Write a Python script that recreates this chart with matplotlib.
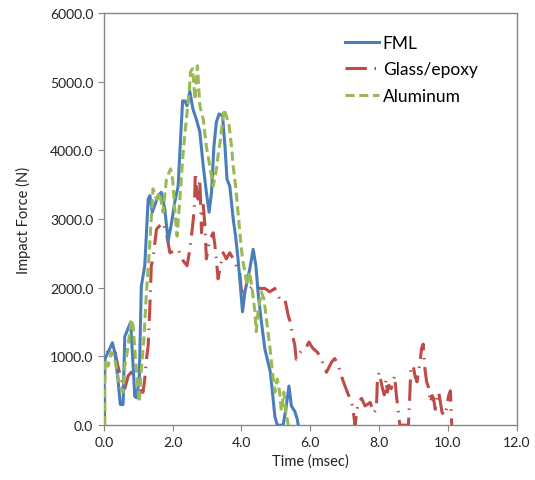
import matplotlib
matplotlib.use('Agg')
import matplotlib.pyplot as plt

plt.rcParams['font.family'] = ['Lato', 'DejaVu Sans']

# FML (solid blue)
fml_t = [0.0, 0.03, 0.125, 0.25, 0.32, 0.41, 0.48, 0.56, 0.61, 0.66, 0.74, 0.78, 0.83, 0.90,
         0.95, 1.03, 1.09, 1.19, 1.29, 1.34, 1.41, 1.48, 1.58, 1.67, 1.77, 1.87, 1.97, 2.06,
         2.16, 2.23, 2.29, 2.35, 2.42, 2.50, 2.59, 2.69, 2.79, 2.89, 2.98, 3.06, 3.13, 3.20,
         3.27, 3.35, 3.45, 3.52, 3.58, 3.66, 3.76, 3.83, 3.90, 3.97, 4.03, 4.10, 4.24, 4.34,
         4.42, 4.48, 4.58, 4.68, 4.77, 4.84, 4.90, 4.97, 5.04, 5.21, 5.29, 5.38, 5.45, 5.55,
         5.62, 5.65]
fml_f = [300, 960, 1060, 1200, 1060, 670, 300, 300, 1290, 1350, 1450, 1500, 1060, 420,
         400, 670, 2020, 2320, 3290, 3340, 3100, 3200, 3340, 3390, 3150, 2680, 2950, 3240,
         3480, 4160, 4720, 4720, 4650, 4860, 4600, 4450, 4270, 3770, 3390, 3100, 3390, 4060,
         4410, 4530, 4500, 4060, 3580, 3480, 3000, 2750, 2420, 2020, 1650, 1940, 2270, 2560,
         2320, 1940, 1500, 1110, 920, 770, 480, 130, 0, 0, 230, 570, 280, 200,
         90, 0]

# Glass/epoxy (red dash-dot)
ge_t = [0.02, 0.03, 0.125, 0.27, 0.33, 0.41, 0.51, 0.61, 0.71, 0.80, 0.90, 1.00, 1.09, 1.14,
        1.19, 1.24, 1.29, 1.34, 1.38, 1.43, 1.53, 1.62, 1.72, 1.82, 1.92, 2.16, 2.31, 2.42,
        2.50, 2.58, 2.63, 2.66, 2.69, 2.74, 2.79, 2.84, 2.89, 2.94, 2.98, 3.08, 3.18, 3.23,
        3.27, 3.32, 3.39, 3.47, 3.56, 3.66, 3.76, 3.85, 3.95, 4.00, 4.10, 4.24, 4.39, 4.53,
        4.68, 4.82, 4.97, 5.11, 5.26, 5.36, 5.42, 5.49, 5.55, 5.59, 5.71, 5.86, 5.96, 6.07,
        6.21, 6.32, 6.47, 6.62, 6.71, 6.81, 6.90, 7.00, 7.10, 7.20, 7.24, 7.30, 7.39, 7.49,
        7.59, 7.74, 7.84, 7.92, 7.95, 8.00, 8.06, 8.10, 8.15, 8.20, 8.24, 8.28, 8.35, 8.45,
        8.50, 8.55, 8.60, 8.75, 8.85, 8.89, 8.92, 8.99, 9.04, 9.10, 9.14, 9.19, 9.23, 9.28,
        9.33, 9.38, 9.43, 9.49, 9.54, 9.58, 9.63, 9.68, 9.73, 9.78, 9.83, 9.92, 10.02, 10.07,
        10.09, 10.11]
ge_f = [100, 1060, 1060, 1080, 1060, 860, 670, 530, 720, 770, 720, 670, 480, 480,
        670, 960, 1160, 1740, 2320, 2420, 2850, 2900, 2950, 2800, 2510, 2560, 2390, 2320,
        2560, 2900, 3150, 3680, 3480, 3290, 3580, 2800, 3200, 2900, 2420, 2700, 2800, 2610,
        2420, 2130, 2320, 2510, 2420, 2510, 2420, 2320, 2230, 1940, 1940, 1990, 2040, 1990,
        1990, 1940, 1990, 1840, 1840, 1590, 1500, 1300, 1160, 960, 1060, 1110, 1210, 1120,
        1060, 960, 770, 920, 970, 880, 720, 580, 450, 330, 230, 0, 330, 390,
        280, 330, 180, 230, 670, 770, 630, 530, 440, 670, 480, 580, 530, 720,
        440, 230, 0, 0, 0, 420, 820, 870, 720, 630, 770, 920, 1110, 1180,
        820, 630, 560, 330, 430, 390, 230, 390, 480, 330, 180, 140, 430, 500,
        230, 0]

# Aluminum (green dashed)
al_t = [0.03, 0.03, 0.125, 0.22, 0.32, 0.39, 0.46, 0.56, 0.61, 0.71, 0.80, 0.85, 0.90, 0.97,
        1.03, 1.09, 1.16, 1.24, 1.32, 1.38, 1.43, 1.53, 1.62, 1.72, 1.82, 1.94, 2.00, 2.06,
        2.13, 2.21, 2.29, 2.35, 2.42, 2.48, 2.52, 2.58, 2.65, 2.72, 2.79, 2.89, 2.98, 3.08,
        3.18, 3.27, 3.33, 3.39, 3.49, 3.56, 3.64, 3.71, 3.76, 3.83, 3.90, 3.97, 4.03, 4.10,
        4.16, 4.24, 4.32, 4.39, 4.43, 4.48, 4.58, 4.65, 4.70, 4.77, 4.84, 4.90, 4.97, 5.04,
        5.11, 5.16, 5.23, 5.29, 5.36]
al_f = [0, 960, 860, 1060, 960, 770, 570, 480, 860, 1160, 1540, 1450, 1110, 670,
        330, 820, 1210, 1940, 2510, 3000, 3440, 3290, 3390, 3100, 3580, 3730, 3580, 3150,
        2750, 3290, 3870, 4210, 4550, 4840, 5140, 5190, 4740, 5230, 4650, 4450, 4060, 3770,
        3480, 3720, 3960, 4160, 4600, 4500, 4360, 4060, 3770, 3480, 3100, 2710, 2420, 2230,
        2040, 2230, 1940, 1650, 1360, 1650, 1940, 1840, 1650, 1360, 1070, 770, 480, 670,
        480, 200, 480, 200, 0]

x_ticks = [0, 2, 4, 6, 8, 10, 12]
y_ticks = [0, 1000, 2000, 3000, 4000, 5000, 6000]

fig = plt.figure(figsize=(5.35, 4.81), dpi=100)
ax = fig.add_axes([0.194, 0.114, 0.772, 0.857])

ax.plot(fml_t, fml_f, color='#4A7EBB', lw=2.2, label='FML', zorder=3)
ax.plot(ge_t, ge_f, color='#BE4B48', lw=2.2, dashes=(7, 2.5, 0.5, 2.5), label='Glass/epoxy', zorder=2)
ax.plot(al_t, al_f, color='#98B954', lw=2.2, dashes=(3, 1.5), label='Aluminum', zorder=4)

ax.set_xlim(0, 12)
ax.set_ylim(0, 6000)
ax.set_xticks(x_ticks)
ax.set_yticks(y_ticks)
ax.set_xticklabels(['%.1f' % v for v in x_ticks])
ax.set_yticklabels(['%.1f' % v for v in y_ticks])
ax.tick_params(direction='out', length=4, color='#868686', labelsize=10, labelcolor='#222222')
for s in ax.spines.values():
    s.set_color('#868686')
    s.set_linewidth(1.0)

ax.set_xlabel('Time (msec)', fontsize=10.5, color='#222222', labelpad=4)
ax.set_ylabel('Impact Force (N)', fontsize=10.5, color='#222222', labelpad=14)

leg = ax.legend(loc='upper left', bbox_to_anchor=(0.545, 0.985), frameon=False, fontsize=12.5,
                handlelength=2.0, handletextpad=0.2, labelspacing=0.6)

fig.savefig('out.png', dpi=100)
